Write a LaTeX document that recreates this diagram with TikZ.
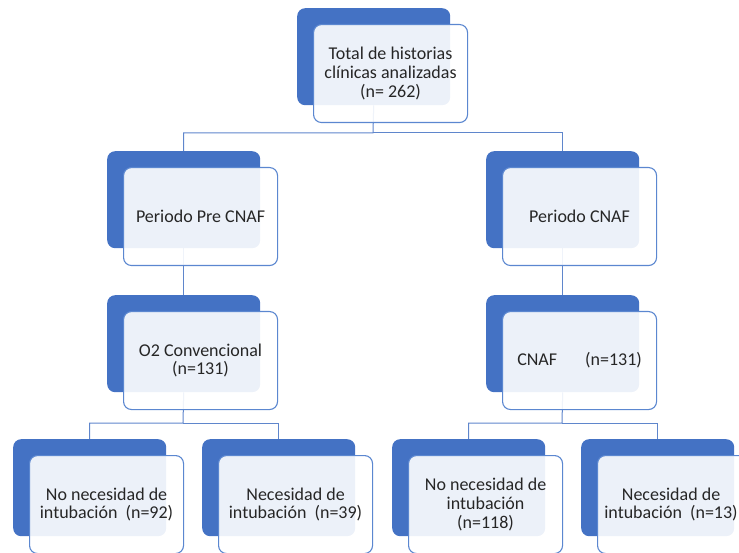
\documentclass[tikz,border=0pt]{standalone}
\usepackage{fontspec}
\setmainfont{Carlito}
\definecolor{darkfill}{HTML}{4472C4}
\definecolor{edgeblue}{HTML}{5B87D0}
\definecolor{wireblue}{HTML}{5F86CC}
\definecolor{ink}{HTML}{262626}
\pgfdeclarelayer{bg}
\pgfsetlayers{bg,main}
\begin{document}
\begin{tikzpicture}[x=1pt,y=-1pt,
  back/.style={fill=darkfill,draw=none,rounded corners=8pt,minimum width=153pt,minimum height=97pt,inner sep=0pt,anchor=north west},
  front/.style={fill=white,fill opacity=0.9,text opacity=1,draw=edgeblue,line width=1.1pt,rounded corners=8pt,minimum width=154pt,minimum height=98pt,inner sep=0pt,anchor=north west,align=center,font=\fontsize{18}{18.8}\selectfont,text=ink},
  wire/.style={draw=wireblue,line width=1pt}]
\useasboundingbox (0,0) rectangle (739,553);
% back boxes
\node[back] (topd) at (297,8) {};
\node[back] (prd) at (107,151) {};
\node[back] (cnd) at (486,151) {};
\node[back] (o2d) at (107,295) {};
\node[back] (cfd) at (486,295) {};
\node[back] (b1d) at (13,439) {};
\node[back] (b2d) at (202,439) {};
\node[back] (b3d) at (392,439) {};
\node[back] (b4d) at (581,439) {};
% front boxes
\node[front] (top) at (313,24) {Total de historias\\clínicas analizadas\\(n= 262)};
\node[front] (pr) at (123,167) {Periodo Pre CNAF};
\node[front] (cn) at (502,167) {Periodo CNAF};
\node[front] (o2) at (123,311) {O2 Convencional\\(n=131)};
\node[front] (cf) at (502,311) {CNAF\hspace{28pt}(n=131)};
\node[front] (b1) at (29,455) {No necesidad de\\intubación\ \ (n=92)};
\node[front] (b2) at (218,455) {Necesidad de\\intubación\ \ (n=39)};
\node[front] (b3) at (408,455) {No necesidad de\\intubación\\(n=118)};
\node[front] (b4) at (597,455) {Necesidad de\hspace*{7pt}\\intubación\ \ (n=13)\hspace*{7pt}};
% connectors
\coordinate (j1) at (373,133);
\coordinate (j2) at (183,423);
\coordinate (j3) at (562,423);
\begin{pgfonlayer}{bg}
\draw[wire] (topd.south) -- (j1) -| (prd.north);
\draw[wire] (j1) -| (cnd.north);
\draw[wire] (prd.south) -- (o2d.north);
\draw[wire] (cnd.south) -- (cfd.north);
\draw[wire] (o2d.south) -- (j2) -| (b1d.north);
\draw[wire] (j2) -| (b2d.north);
\draw[wire] (cfd.south) -- (j3) -| (b3d.north);
\draw[wire] (j3) -| (b4d.north);
\end{pgfonlayer}
\end{tikzpicture}
\end{document}
